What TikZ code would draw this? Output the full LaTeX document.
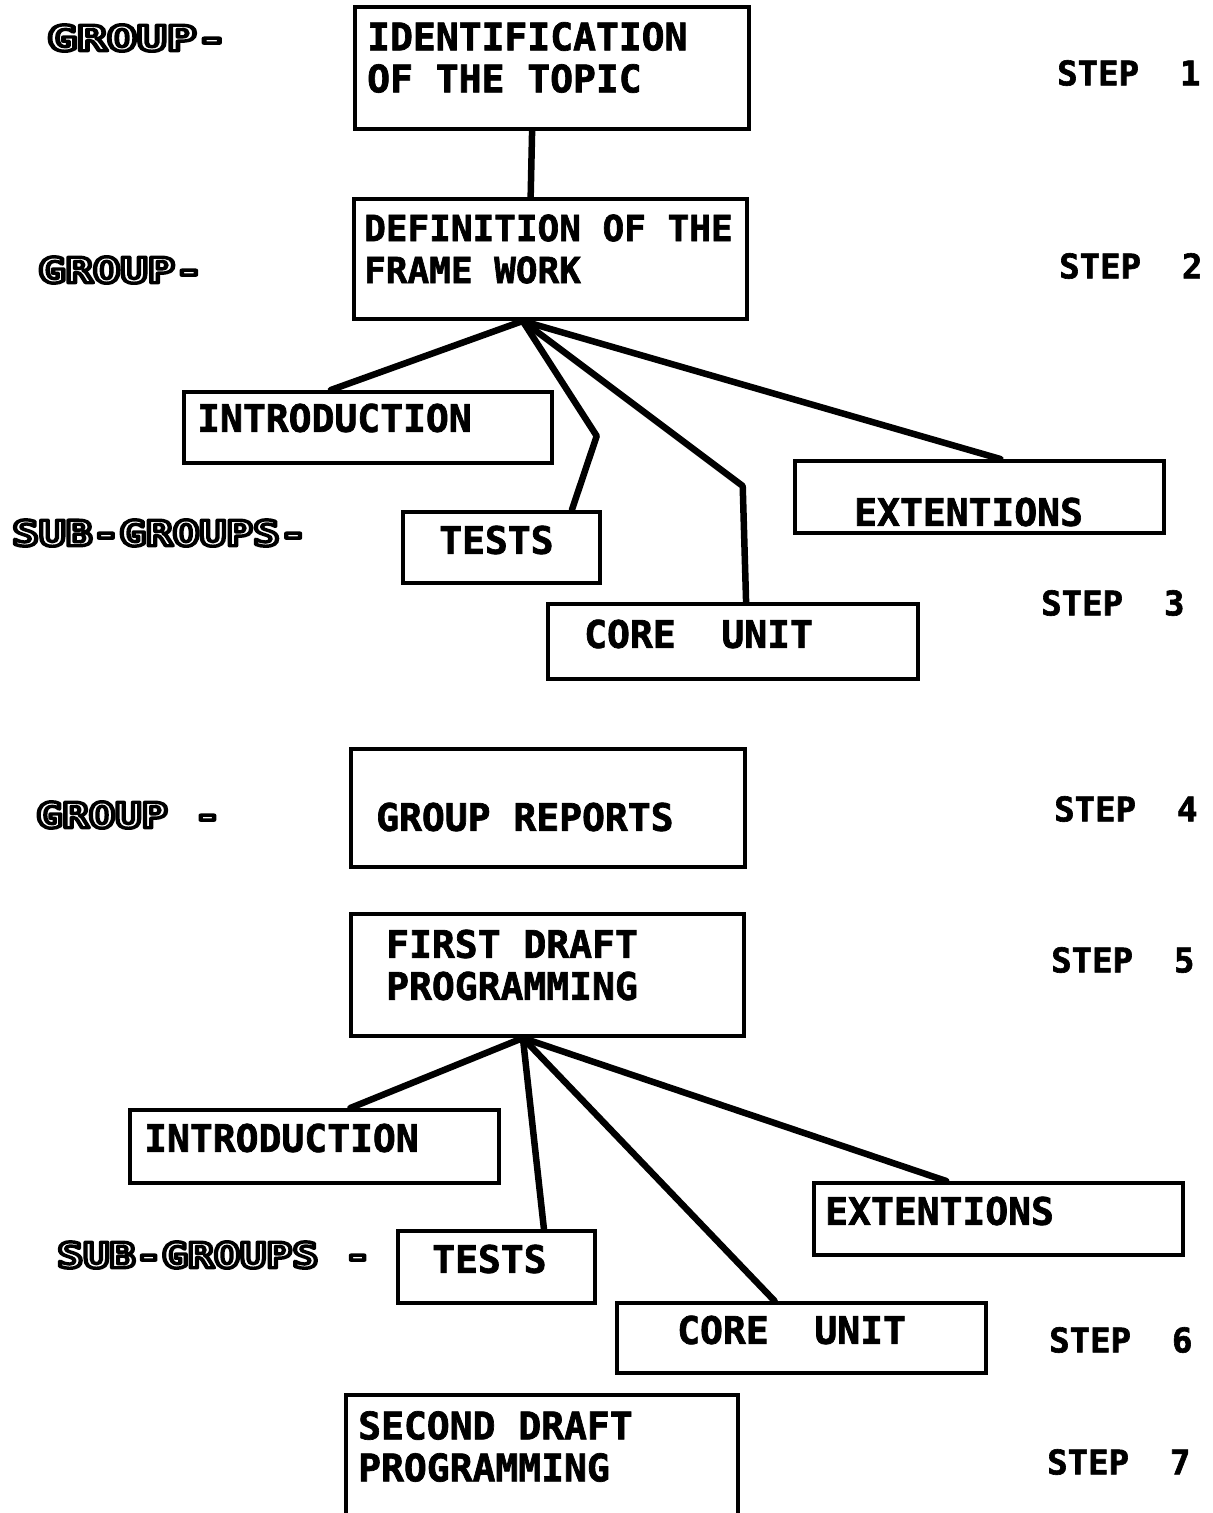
\documentclass[tikz,border=0pt]{standalone}
\usepackage{fontspec}
\usetikzlibrary{calc}
\newfontfamily\boxfont{DejaVu Sans Mono}[FakeBold=1.8]
\newfontfamily\outfont{DejaVu Sans Mono}
\tikzset{
  box/.style={draw, line width=4pt, minimum width=#1, inner sep=0pt, anchor=north west},
  boxtext/.style={inner sep=0pt, anchor=west, align=left, font=\boxfont\bfseries\fontsize{38}{42}\selectfont},
  steptext/.style={inner sep=0pt, anchor=west, font=\boxfont\bfseries\fontsize{34}{40}\selectfont},
  grouptext/.style={inner sep=0pt, anchor=west, font=\outfont\bfseries\fontsize{35}{40}\selectfont},
  link/.style={line width=6.5pt, line join=round, line cap=round},
}
\newcommand{\hollow}[2][1.27]{\scalebox{#1}[1]{\textcolor{white}{\special{pdf:code q 2 Tr 3.4 w 1 j 0 0 0 RG}#2\special{pdf:code Q}}}}
\begin{document}
\begin{tikzpicture}[x=1pt,y=-1pt]
\useasboundingbox[fill=white] (0,0) rectangle (1213,1513);

% ---- boxes ----
\node[box=394, minimum height=122] (b1) at (353,5) {};
\node[box=393, minimum height=120] (b2) at (352,197) {};
\node[box=368, minimum height=71] (i1) at (182,390) {};
\node[box=197, minimum height=71] (t1) at (401,510) {};
\node[box=370, minimum height=75] (c1) at (546,602) {};
\node[box=369, minimum height=72] (e1) at (793,459) {};
\node[box=394, minimum height=118] (b4) at (349,747) {};
\node[box=393, minimum height=122] (b5) at (349,912) {};
\node[box=369, minimum height=73] (i2) at (128,1108) {};
\node[box=197, minimum height=72] (t2) at (396,1229) {};
\node[box=369, minimum height=70] (c2) at (615,1301) {};
\node[box=369, minimum height=72] (e2) at (812,1181) {};
\node[minimum width=392, minimum height=118, inner sep=0pt, anchor=north west] (b7) at (346,1395) {};
\draw[line width=4pt] (b7.south west) |- (b7.north east) -- (b7.south east);

% ---- box texts ----
\node[boxtext] (tx1) at (367,57.5) {IDENTIFICATION\\OF THE TOPIC};
\node[boxtext, font=\boxfont\bfseries\fontsize{36}{42}\selectfont] (tx2) at (364,249) {DEFINITION OF THE\\FRAME WORK};
\node[boxtext] (txi1) at (197,418) {INTRODUCTION};
\node[boxtext] (txt1) at (439,540) {TESTS};
\node[boxtext] (txc1) at (584,634) {CORE~~UNIT};
\node[boxtext] (txe1) at (854,512) {EXTENTIONS};
\node[boxtext] (tx4) at (376,817) {GROUP REPORTS};
\node[boxtext] (tx5) at (386,965) {FIRST DRAFT\\PROGRAMMING};
\node[boxtext] (txi2) at (144,1138) {INTRODUCTION};
\node[boxtext] (txt2) at (432,1259) {TESTS};
\node[boxtext] (txc2) at (677,1330) {CORE~~UNIT};
\node[boxtext] (txe2) at (825,1211) {EXTENTIONS};
\node[boxtext] (tx7) at (358,1446.5) {SECOND DRAFT\\PROGRAMMING};

% ---- connectors ----
\coordinate (h1) at ($(b2.south west)!0.43!(b2.south east)$);
\coordinate (h2) at ($(b5.south west)!0.438!(b5.south east)$);
\draw[link] ($(b1.south west)!0.45!(b1.south east)$) -- ($(b2.north west)!0.45!(b2.north east)$);
\draw[link] (h1) -- ($(i1.north west)!0.40!(i1.north east)$);
\draw[link] (h1) -- ($(h1)+(74,115)$) -- ($(t1.north west)!0.85!(t1.north east)$);
\draw[link] (h1) -- ($(h1)+(220,165)$) -- ($(c1.north west)!0.535!(c1.north east)$);
\draw[link] (h1) -- ($(e1.north west)!0.556!(e1.north east)$);
\draw[link] (h2) -- ($(i2.north west)!0.596!(i2.north east)$);
\draw[link] (h2) -- ($(t2.north west)!0.736!(t2.north east)$);
\draw[link] (h2) -- ($(c2.north west)!0.428!(c2.north east)$);
\draw[link] (h2) -- ($(e2.north west)!0.36!(e2.north east)$);

% ---- left labels ----
\node[grouptext] (g1) at (47,38) {\hollow[1.42]{GROUP-}};
\node[grouptext] (g2) at (38,270) {\hollow[1.3]{GROUP-}};
\node[grouptext] (g3) at (12,533) {\hollow[1.27]{SUB-GROUPS-}};
\node[grouptext] (g4) at (36,815) {\hollow[1.25]{GROUP -}};
\node[grouptext] (g5) at (57,1255) {\hollow[1.24]{SUB-GROUPS -}};

% ---- step labels ----
\node[steptext] (s1) at (1057,73) {STEP~~1};
\node[steptext] (s2) at (1059,266) {STEP~~2};
\node[steptext] (s3) at (1041,603) {STEP~~3};
\node[steptext] (s4) at (1054,809) {STEP~~4};
\node[steptext] (s5) at (1051,960) {STEP~~5};
\node[steptext] (s6) at (1049,1340) {STEP~~6};
\node[steptext] (s7) at (1047,1462) {STEP~~7};
\end{tikzpicture}
\end{document}
